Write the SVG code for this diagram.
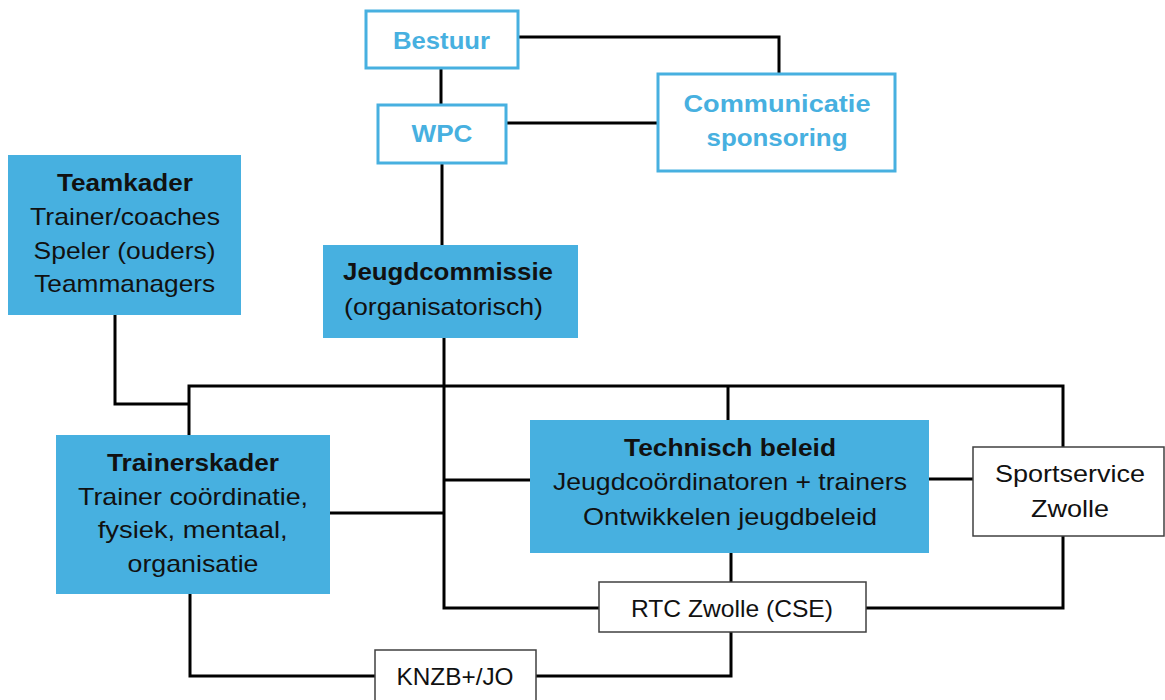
<svg xmlns="http://www.w3.org/2000/svg" width="1165" height="700" viewBox="0 0 1165 700">
<style>
.bg{fill:#ffffff}
.fill{fill:#47B0E0;stroke:none}
.outl{fill:#ffffff;stroke:#47B0E0;stroke-width:3}
.plain{fill:#ffffff;stroke:#404040;stroke-width:1.5}
.con{fill:none;stroke:#000000;stroke-width:3;stroke-linejoin:miter}
text{font-family:"Liberation Sans",Arial,sans-serif;font-size:24px;fill:#111111;text-anchor:middle}
.b{font-weight:bold}
.bl{fill:#47B0E0;font-weight:bold}
.l{text-anchor:start}
</style>
<rect class="bg" x="0" y="0" width="1165" height="700"/>
<g id="connectors">
<path class="con" d="M518,37 H779 V74"/>
<path class="con" d="M441,68 V105"/>
<path class="con" d="M506,123 H658"/>
<path class="con" d="M442,163 V245"/>
<path class="con" d="M444,338 V608 H599"/>
<path class="con" d="M189,435 V386 H1063 V447"/>
<path class="con" d="M115,315 V404 H189"/>
<path class="con" d="M728,386 V420"/>
<path class="con" d="M330,513 H444"/>
<path class="con" d="M444,480 H530"/>
<path class="con" d="M929,479 H973"/>
<path class="con" d="M1063,536 V608 H866"/>
<path class="con" d="M731,553 V582"/>
<path class="con" d="M190,594 V676 H375"/>
<path class="con" d="M731,632 V676 H536"/>
</g>
<g id="bestuur">
<rect class="outl" x="366" y="11" width="152" height="57"/>
<text class="bl" x="441.5" y="49" textLength="97" lengthAdjust="spacingAndGlyphs">Bestuur</text>
</g>
<g id="wpc">
<rect class="outl" x="378" y="105" width="128" height="58"/>
<text class="bl" x="442" y="142" textLength="61" lengthAdjust="spacingAndGlyphs">WPC</text>
</g>
<g id="communicatie">
<rect class="outl" x="658" y="74" width="237" height="97"/>
<text class="bl" x="777" y="112" textLength="187" lengthAdjust="spacingAndGlyphs">Communicatie</text>
<text class="bl" x="777" y="146" textLength="141" lengthAdjust="spacingAndGlyphs">sponsoring</text>
</g>
<g id="teamkader">
<rect class="fill" x="8" y="155" width="233" height="160"/>
<text class="b" x="125" y="191" textLength="136" lengthAdjust="spacingAndGlyphs">Teamkader</text>
<text x="125" y="225" textLength="190" lengthAdjust="spacingAndGlyphs">Trainer/coaches</text>
<text x="124.6" y="259" textLength="182" lengthAdjust="spacingAndGlyphs">Speler (ouders)</text>
<text x="124.7" y="292" textLength="181" lengthAdjust="spacingAndGlyphs">Teammanagers</text>
</g>
<g id="jeugdcommissie">
<rect class="fill" x="323" y="245" width="255" height="93"/>
<text class="b l" x="343" y="280" textLength="210" lengthAdjust="spacingAndGlyphs">Jeugdcommissie</text>
<text class="l" x="344" y="315" textLength="199" lengthAdjust="spacingAndGlyphs">(organisatorisch)</text>
</g>
<g id="trainerskader">
<rect class="fill" x="56" y="435" width="274" height="159"/>
<text class="b" x="193" y="471" textLength="172" lengthAdjust="spacingAndGlyphs">Trainerskader</text>
<text x="193" y="505" textLength="230" lengthAdjust="spacingAndGlyphs">Trainer coördinatie,</text>
<text x="192.7" y="538" textLength="190" lengthAdjust="spacingAndGlyphs">fysiek, mentaal,</text>
<text x="193" y="572" textLength="131" lengthAdjust="spacingAndGlyphs">organisatie</text>
</g>
<g id="technisch">
<rect class="fill" x="530" y="420" width="399" height="133"/>
<text class="b" x="730" y="456" textLength="212" lengthAdjust="spacingAndGlyphs">Technisch beleid</text>
<text x="730" y="490" textLength="354" lengthAdjust="spacingAndGlyphs">Jeugdcoördinatoren + trainers</text>
<text x="730" y="525" textLength="294" lengthAdjust="spacingAndGlyphs">Ontwikkelen jeugdbeleid</text>
</g>
<g id="sportservice">
<rect class="plain" x="973" y="447" width="191" height="89"/>
<text x="1070" y="482" textLength="150" lengthAdjust="spacingAndGlyphs">Sportservice</text>
<text x="1070" y="517" textLength="78" lengthAdjust="spacingAndGlyphs">Zwolle</text>
</g>
<g id="rtc">
<rect class="plain" x="599" y="582" width="267" height="50"/>
<text x="732" y="617" textLength="202" lengthAdjust="spacingAndGlyphs">RTC Zwolle (CSE)</text>
</g>
<g id="knzb">
<rect class="plain" x="375" y="650" width="161" height="56"/>
<text x="455" y="685" textLength="117" lengthAdjust="spacingAndGlyphs">KNZB+/JO</text>
</g>
</svg>
